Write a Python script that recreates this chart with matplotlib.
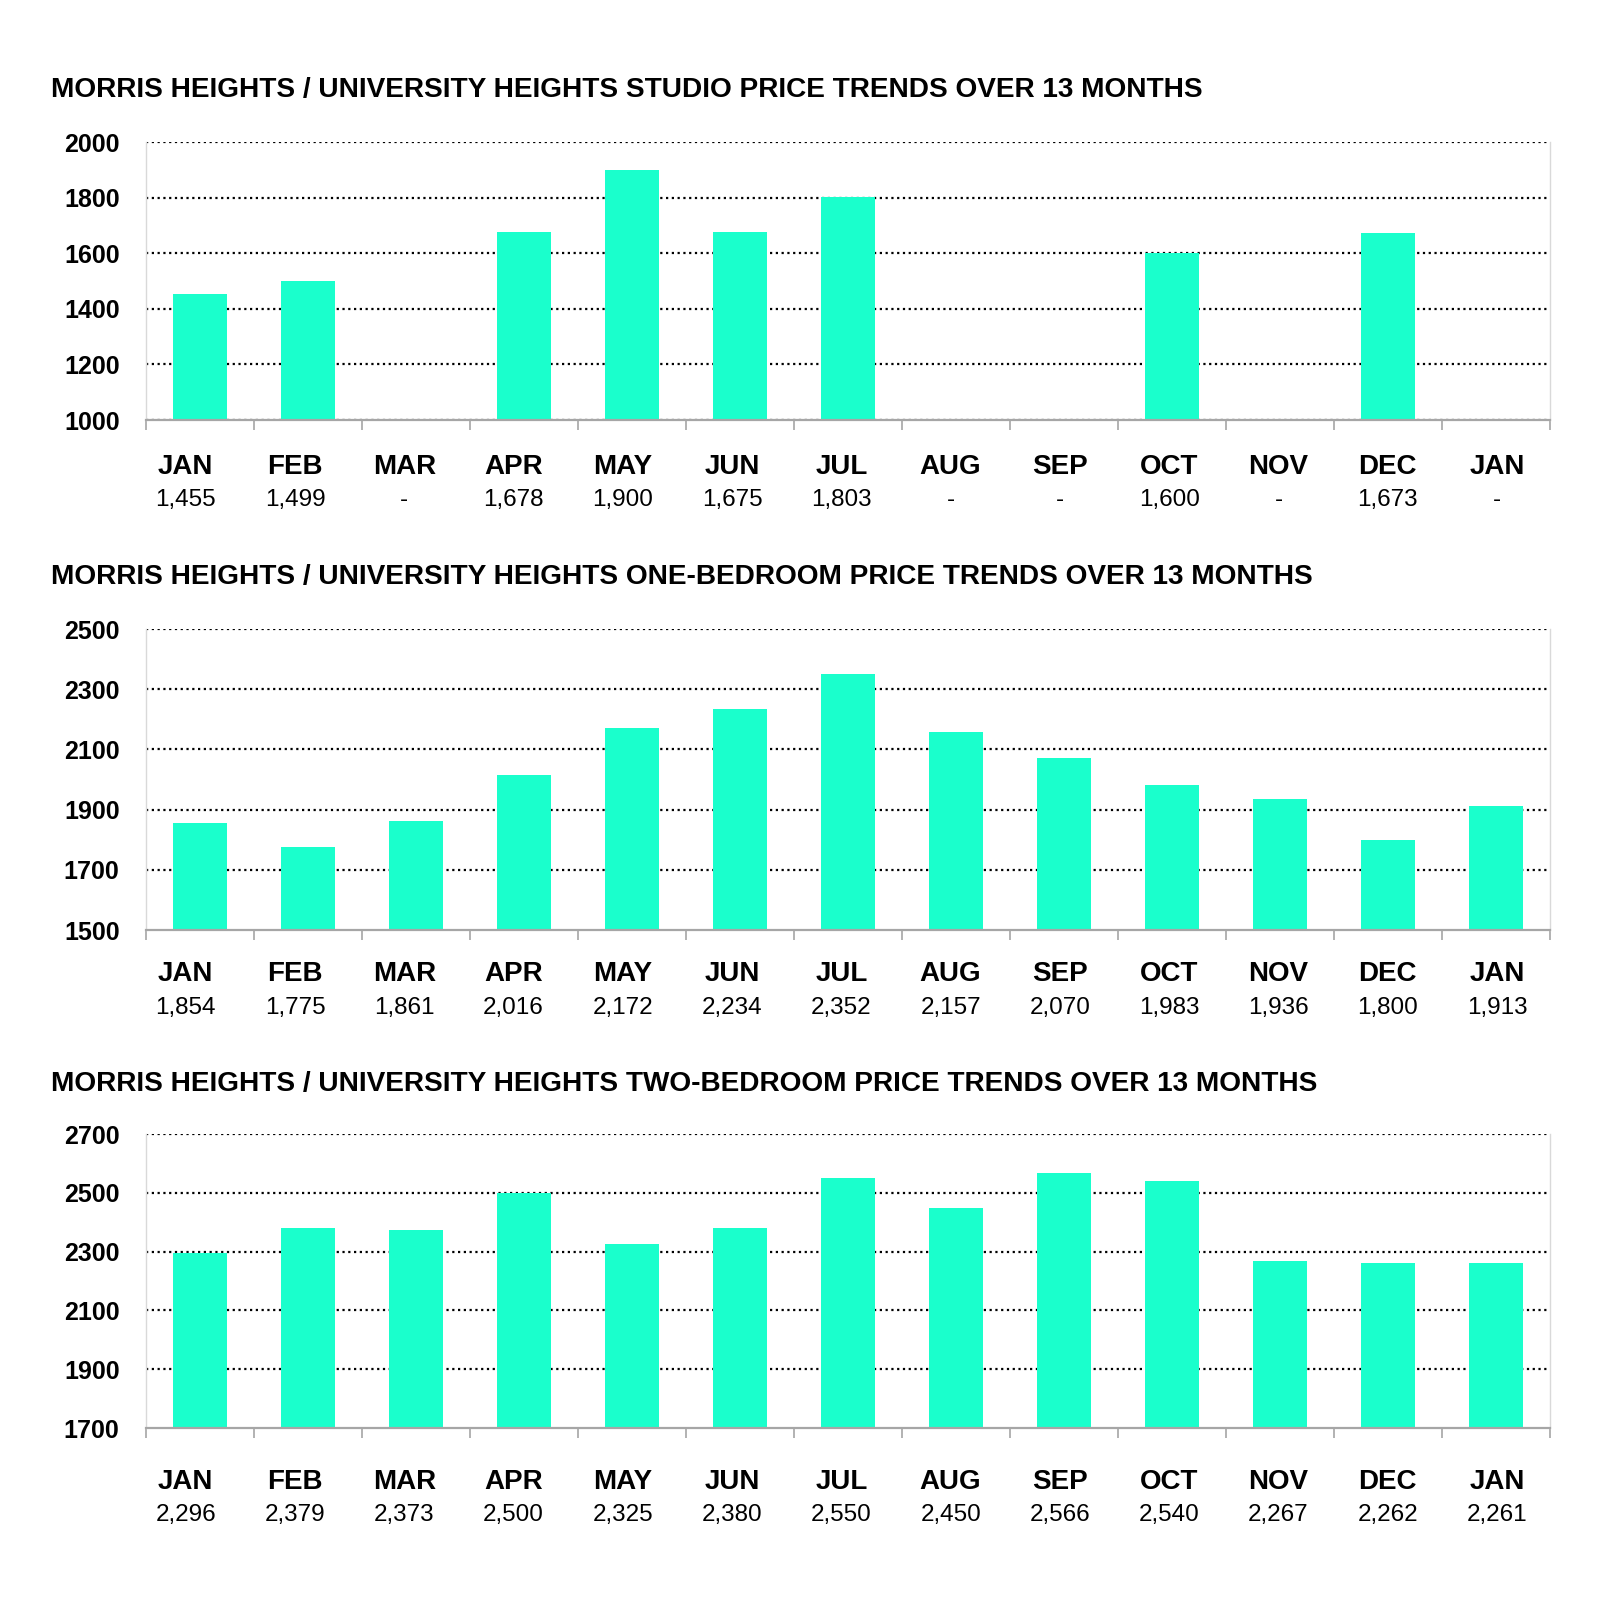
import matplotlib
matplotlib.use("Agg")
import matplotlib.pyplot as plt
import numpy as np

plt.rcParams['font.family'] = ['Liberation Sans', 'DejaVu Sans']

months = ["JAN", "FEB", "MAR", "APR", "MAY", "JUN", "JUL", "AUG", "SEP", "OCT", "NOV", "DEC", "JAN"]

studio = [1455, 1499, None, 1678, 1900, 1675, 1803, None, None, 1600, None, 1673, None]
one_bed = [1854, 1775, 1861, 2016, 2172, 2234, 2352, 2157, 2070, 1983, 1936, 1800, 1913]
two_bed = [2296, 2379, 2373, 2500, 2325, 2380, 2550, 2450, 2566, 2540, 2267, 2262, 2261]

titles = [
    "MORRIS HEIGHTS / UNIVERSITY HEIGHTS STUDIO PRICE TRENDS OVER 13 MONTHS",
    "MORRIS HEIGHTS / UNIVERSITY HEIGHTS ONE-BEDROOM PRICE TRENDS OVER 13 MONTHS",
    "MORRIS HEIGHTS / UNIVERSITY HEIGHTS TWO-BEDROOM PRICE TRENDS OVER 13 MONTHS",
]
y_ranges = [(1000, 2000, 200), (1500, 2500, 200), (1700, 2700, 200)]
series = [studio, one_bed, two_bed]

BAR = '#1affcc'
W, H = 1600, 1600
fig = plt.figure(figsize=(16, 16), dpi=100)

# layout in pixels: (axes top, axes bottom, title y, month label y, value label y)
layouts = [
    (142, 420, 90, 467, 500),
    (629, 930, 577, 974, 1008),
    (1134, 1428, 1084, 1482, 1515),
]
left_px, right_px = 146, 1550
lab_x0, lab_x1 = 185.7, 1497.0  # label row (separate from bar centres)

for vals, title, (y0, y1, step), (top, bot, ty, my, vy) in zip(series, titles, y_ranges, layouts):
    ax = fig.add_axes([left_px / W, 1 - bot / H, (right_px - left_px) / W, (bot - top) / H])
    x = np.arange(len(months))
    heights = [np.nan if v is None else v - y0 for v in vals]
    ax.bar(x, heights, bottom=y0, width=0.5, color=BAR, zorder=2)
    ax.set_xlim(-0.5, len(months) - 0.5)
    ax.set_ylim(y0, y1)
    ticks = np.arange(y0, y1 + 1, step)
    ax.set_yticks(ticks)
    ax.set_yticklabels([str(t) for t in ticks], fontsize=18, fontweight='bold')
    ax.tick_params(axis='y', length=0, pad=19)
    for t in ticks:
        if t == y0 and y0 != 1000:
            continue
        ax.axhline(t, color='black', linestyle=(0, (1, 1.6)), linewidth=1.6, zorder=1)
    ax.set_xticks(np.arange(-0.5, len(months), 1.0))
    ax.set_xticklabels([])
    ax.tick_params(axis='x', length=7, width=1.2, color='#a6a6a6')
    for s in ['left', 'right']:
        ax.spines[s].set_color('#d9d9d9')
        ax.spines[s].set_linewidth(1.0)
    ax.spines['top'].set_visible(False)
    ax.spines['bottom'].set_color('#a6a6a6')
    ax.spines['bottom'].set_linewidth(1.6)
    n = len(months)
    for i, (m, v) in enumerate(zip(months, vals)):
        lx = (lab_x0 + (lab_x1 - lab_x0) * i / (n - 1)) / W
        fig.text(lx, 1 - my / H, m, ha='center', va='center',
                 fontsize=20, fontweight='bold')
        fig.text(lx, 1 - vy / H, '-' if v is None else f"{v:,}",
                 ha='center', va='center', fontsize=17.5)
    fig.text(51 / W, 1 - ty / H, title, ha='left', va='center', fontsize=20.2, fontweight='bold')

fig.savefig('out.png', dpi=100, facecolor='white')
